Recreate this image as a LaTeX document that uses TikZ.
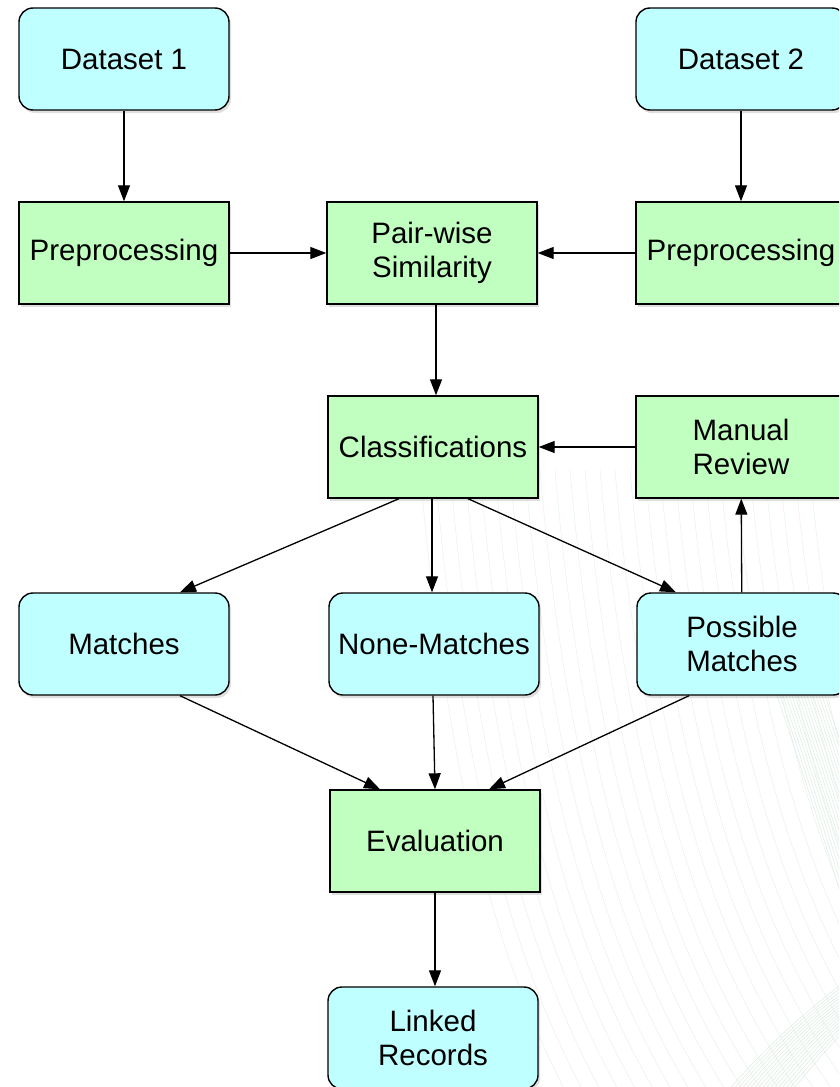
\documentclass[tikz,border=0pt]{standalone}
\usepackage{fontspec}
\setmainfont{Liberation Sans}
\usetikzlibrary{arrows.meta,shadows}
\definecolor{cyanbox}{RGB}{192,255,255}
\definecolor{greenbox}{RGB}{192,255,192}
\definecolor{bgline}{RGB}{232,242,235}
\definecolor{bgdense}{RGB}{222,236,226}
\begin{document}
\begin{tikzpicture}[x=1pt,y=-1pt,
  base/.style={draw=black,line width=1.4pt,minimum width=210pt,minimum height=102pt,
    align=center,font=\fontsize{29.5}{34}\selectfont,inner sep=0pt,
    drop shadow={shadow xshift=2pt,shadow yshift=-3pt,opacity=0.25}},
  roundbox/.style={base,fill=cyanbox,rounded corners=14pt},
  sqbox/.style={base,fill=greenbox},
  conn/.style={line width=1.3pt,-{Triangle[length=16pt,width=12pt]}}]
\clip (0,0) rectangle (839,1087);
\fill[white] (0,0) rectangle (839,1087);
% faint background waves
\foreach \i in {0,...,26}{
  \draw[bgline,line width=0.5pt] (420+15*\i,470) .. controls (445+15*\i,760) and (490+16*\i,950) .. (570+18*\i,1100);
}
\foreach \i in {0,...,16}{
  \draw[bgdense,line width=0.5pt] (745+3*\i,600) .. controls (785+3*\i,720) and (820+3*\i,820) .. (860+3*\i,960);
  \draw[bgdense,line width=0.5pt] (720+4*\i,1100) .. controls (770+4*\i,1040) and (820+3*\i,1000) .. (860,970+4*\i);
}
% nodes
\node[roundbox] (d1) at (124,59) {Dataset 1};
\node[roundbox] (d2) at (741,59) {Dataset 2};
\node[sqbox] (p1) at (124,253) {Preprocessing};
\node[sqbox] (pw) at (432,253) {Pair-wise\\Similarity};
\node[sqbox] (p2) at (741,253) {Preprocessing};
\node[sqbox] (cls) at (433,447) {Classifications};
\node[sqbox] (mr) at (741,447) {Manual\\Review};
\node[roundbox] (mat) at (124,644) {Matches};
\node[roundbox] (non) at (434,644) {None-Matches};
\node[roundbox] (pos) at (742,644) {Possible\\Matches};
\node[sqbox] (ev) at (435,841) {Evaluation};
\node[roundbox] (lr) at (433,1038) {Linked\\Records};
% connectors
\draw[conn] (d1) -- (p1);
\draw[conn] (d2) -- (p2);
\draw[conn] (p1) -- (pw);
\draw[conn] (p2) -- (pw);
\draw[conn] ([xshift=4pt]pw.south) -- ([xshift=3pt]cls.north);
\draw[conn] (mr) -- (cls);
\draw[conn] ([xshift=-34pt]cls.south) -- ([xshift=56pt]mat.north);
\draw[conn] ([xshift=-1pt]cls.south) -- ([xshift=-2pt]non.north);
\draw[conn] ([xshift=35pt]cls.south) -- ([xshift=-66pt]pos.north);
\draw[conn] (pos) -- (mr);
\draw[conn] ([xshift=56pt]mat.south) -- ([xshift=-55pt]ev.north);
\draw[conn] ([xshift=-1pt]non.south) -- ([xshift=0pt]ev.north);
\draw[conn] ([xshift=-53pt]pos.south) -- ([xshift=54pt]ev.north);
\draw[conn] (ev) -- ([xshift=2pt]lr.north);
\end{tikzpicture}
\end{document}
